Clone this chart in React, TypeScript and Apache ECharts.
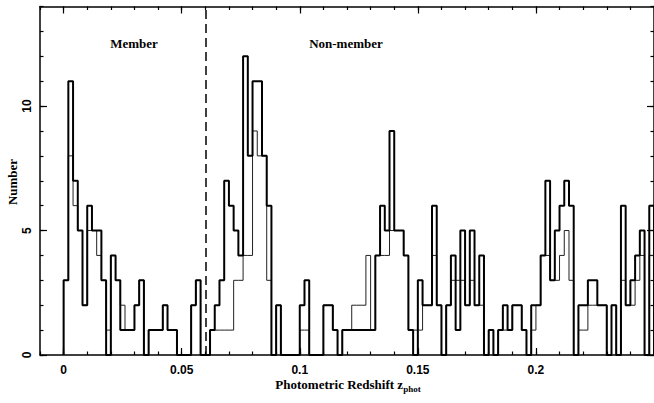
import React, { useEffect, useRef } from "react";
import * as echarts from "echarts";

// Histogram bins: width 0.002 starting at z = 0
const BIN_START = 0;
const BIN_WIDTH = 0.002;

// Thick histogram (all galaxies)
const allCounts = [
  3, 11, 7, 5, 2, 6, 5, 5, 3, 0,
  4, 3, 1, 1, 1, 2, 3, 0, 1, 1,
  1, 2, 1, 1, 0, 0, 0, 2, 3, 0,
  0, 1, 2, 3, 7, 6, 5, 4, 12, 8,
  11, 11, 8, 6, 0, 2, 0, 0, 0, 0,
  2, 3, 0, 0, 0, 2, 2, 1, 0, 1,
  1, 1, 1, 1, 1, 1, 4, 6, 5, 9,
  5, 5, 4, 1, 0, 3, 2, 2, 6, 2,
  0, 2, 4, 1, 5, 2, 5, 2, 4, 0,
  1, 0, 1, 2, 1, 2, 2, 1, 0, 2,
  2, 4, 7, 3, 5, 6, 7, 6, 0, 2,
  2, 3, 3, 2, 2, 0, 2, 0, 6, 2,
  3, 4, 5, 0, 6,
];

// Thin histogram (subsample)
const subCounts = [
  3, 8, 6, 5, 2, 5, 5, 4, 3, 1,
  4, 3, 2, 1, 1, 2, 3, 0, 1, 1,
  1, 2, 1, 1, 0, 0, 0, 2, 3, 0,
  0, 1, 1, 1, 1, 1, 3, 3, 4, 4,
  9, 8, 8, 3, 0, 2, 0, 0, 0, 0,
  1, 1, 0, 0, 0, 2, 2, 1, 0, 1,
  1, 2, 2, 2, 4, 1, 4, 4, 4, 5,
  5, 5, 4, 1, 1, 1, 2, 2, 4, 2,
  0, 2, 3, 3, 3, 2, 3, 2, 2, 0,
  1, 0, 1, 1, 1, 2, 2, 1, 0, 1,
  2, 4, 4, 3, 3, 4, 5, 3, 0, 1,
  1, 2, 2, 2, 2, 0, 2, 0, 3, 2,
  2, 3, 4, 0, 4,
];

const X_MIN = -0.01;
const X_MAX = 0.25;
const Y_MIN = 0;
const Y_MAX = 14;
const xMajorTicks = [0, 0.05, 0.1, 0.15, 0.2];
const xMinorTicks = [
  -0.01, 0, 0.01, 0.02, 0.03, 0.04, 0.05, 0.06, 0.07, 0.08, 0.09, 0.1, 0.11, 0.12,
  0.13, 0.14, 0.15, 0.16, 0.17, 0.18, 0.19, 0.2, 0.21, 0.22, 0.23, 0.24, 0.25,
];
const yMajorTicks = [0, 5, 10];
const yMinorTicks = [0, 1, 2, 3, 4, 5, 6, 7, 8, 9, 10, 11, 12, 13, 14];
const MEMBER_CUT = 0.06;

function stepData(counts: number[]): number[][] {
  const pts: number[][] = [[BIN_START, 0]];
  counts.forEach((c, k) => pts.push([BIN_START + k * BIN_WIDTH, c]));
  const end = BIN_START + counts.length * BIN_WIDTH;
  pts.push([end, counts[counts.length - 1]]);
  pts.push([end, 0]);
  return pts;
}

const BLACK = "#000";
const tickFont = {
  fontFamily: "Liberation Sans",
  fontWeight: "bold" as const,
  fontSize: 12,
  color: BLACK,
};

function xAxisDef(position: "top" | "bottom", major: boolean, labels: boolean) {
  return {
    type: "value",
    position,
    min: X_MIN,
    max: X_MAX,
    axisLine: { show: major, onZero: false, lineStyle: { color: BLACK, width: 1.5 } },
    axisTick: {
      show: true,
      inside: true,
      length: major ? 7 : 3.5,
      customValues: major ? xMajorTicks : xMinorTicks,
      lineStyle: { color: BLACK, width: 1.2 },
    },
    axisLabel: labels
      ? { show: true, customValues: xMajorTicks, margin: 9, ...tickFont }
      : { show: false },
    splitLine: { show: false },
  };
}

function yAxisDef(position: "left" | "right", major: boolean, labels: boolean) {
  return {
    type: "value",
    position,
    min: Y_MIN,
    max: Y_MAX,
    axisLine: { show: major, onZero: false, lineStyle: { color: BLACK, width: 1.5 } },
    axisTick: {
      show: true,
      inside: true,
      length: major ? 7 : 3.5,
      customValues: major ? yMajorTicks : yMinorTicks,
      lineStyle: { color: BLACK, width: 1.2 },
    },
    axisLabel: labels
      ? { show: true, customValues: yMajorTicks, margin: 7, rotate: 90, ...tickFont }
      : { show: false },
    splitLine: { show: false },
  };
}

const textStyle = (text: string, size: number) => ({
  text,
  fontFamily: "Liberation Serif",
  fontWeight: "bold",
  fontSize: size,
  fill: BLACK,
  align: "center",
  verticalAlign: "middle",
});

export default function App() {
  const ref = useRef<HTMLDivElement>(null);

  useEffect(() => {
    if (!ref.current) return;
    const chart = echarts.init(ref.current, undefined, { renderer: "svg" });
    chart.setOption({
      animation: false,
      backgroundColor: "#fff",
      grid: { left: 40, right: -3.5, top: 6.5, bottom: 48, containLabel: false },
      xAxis: [
        xAxisDef("bottom", true, true),
        xAxisDef("bottom", false, false),
        xAxisDef("top", true, false),
        xAxisDef("top", false, false),
      ],
      yAxis: [
        yAxisDef("left", true, true),
        yAxisDef("left", false, false),
        yAxisDef("right", true, false),
        yAxisDef("right", false, false),
      ],
      series: [
        {
          name: "subsample",
          type: "line",
          step: "end",
          showSymbol: false,
          silent: true,
          data: stepData(subCounts),
          lineStyle: { color: "#222", width: 1 },
          z: 2,
        },
        {
          name: "all",
          type: "line",
          step: "end",
          showSymbol: false,
          silent: true,
          data: stepData(allCounts),
          lineStyle: { color: BLACK, width: 2 },
          z: 3,
          markLine: {
            silent: true,
            symbol: "none",
            label: { show: false },
            lineStyle: { color: BLACK, width: 1.5, type: [9, 5] },
            data: [{ xAxis: MEMBER_CUT }],
          },
        },
      ],
      graphic: [
        { type: "text", x: 134, y: 43, style: textStyle("Member", 13) },
        { type: "text", x: 346, y: 43, style: textStyle("Non-member", 13) },
        {
          type: "text",
          x: 348,
          y: 384,
          style: {
            text: "{a|Photometric Redshift z}{b|phot}",
            align: "center",
            verticalAlign: "middle",
            fill: BLACK,
            rich: {
              a: { fontFamily: "Liberation Serif", fontWeight: "bold", fontSize: 13, fill: BLACK },
              b: {
                fontFamily: "Liberation Serif",
                fontWeight: "bold",
                fontSize: 9,
                fill: BLACK,
                padding: [9, 0, 0, 0],
              },
            },
          },
        },
        {
          type: "text",
          x: 12,
          y: 182,
          rotation: Math.PI / 2,
          style: textStyle("Number", 13),
        },
      ],
    });
    return () => chart.dispose();
  }, []);

  return (
    <div
      ref={ref}
      style={{ position: "fixed", left: 0, top: 0, width: 654, height: 403, background: "#fff" }}
    />
  );
}
